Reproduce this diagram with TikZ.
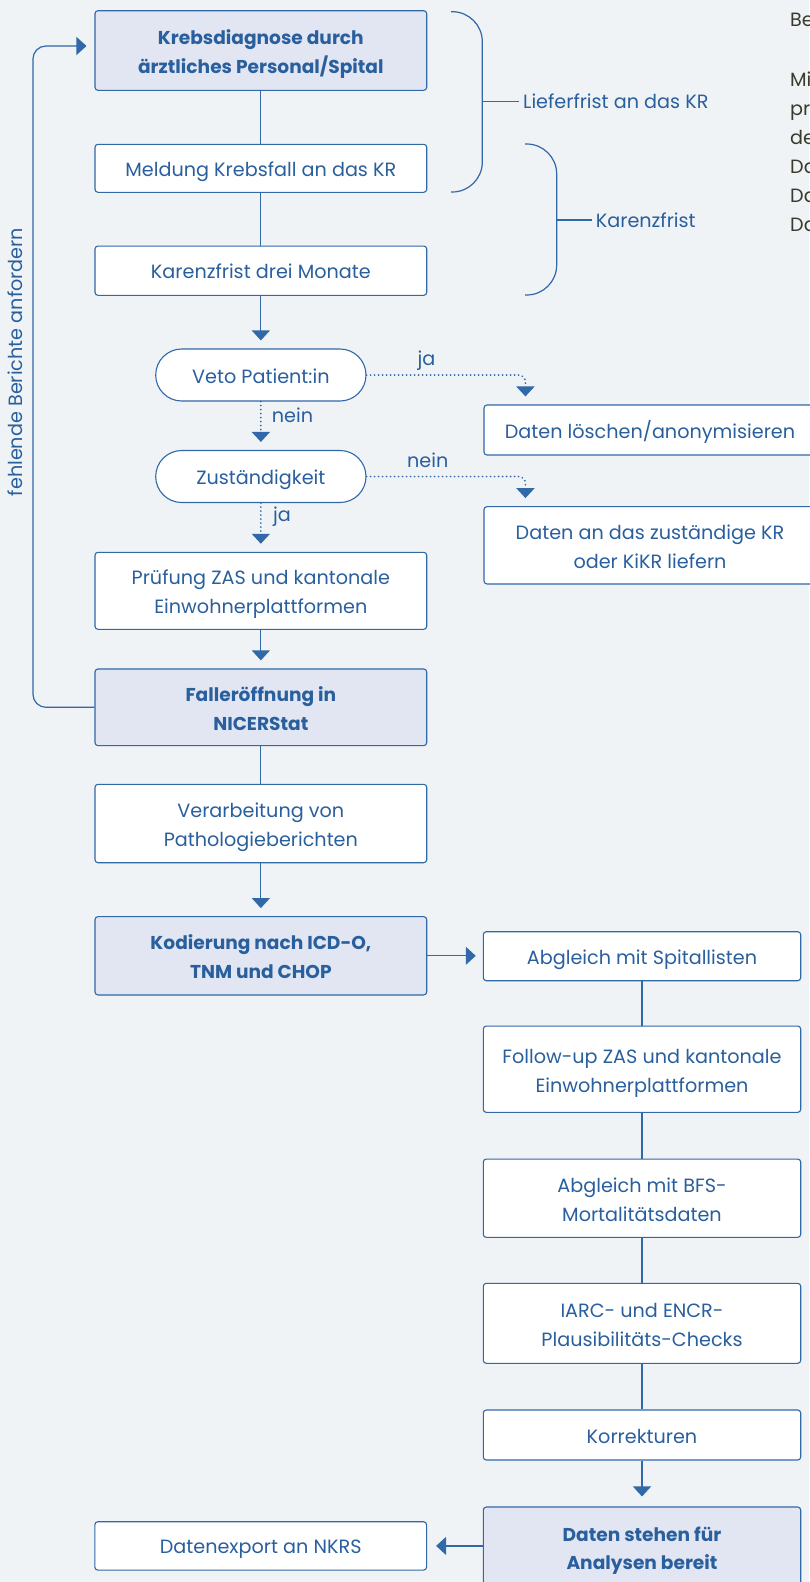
\documentclass[tikz,border=0pt]{standalone}
\usepackage{fontspec}
\setmainfont{Poppins}
\usetikzlibrary{arrows.meta}
\definecolor{bg}{HTML}{EFF3F5}
\definecolor{blu}{HTML}{3068A8}
\definecolor{txt}{HTML}{2A5F9E}
\definecolor{hl}{HTML}{E1E6F2}
\definecolor{dark}{HTML}{3B3A2E}
\newcommand{\bxfont}{\fontsize{19.2}{28.7}\selectfont}
\newcommand{\bdfont}{\fontsize{18.6}{28.7}\selectfont\bfseries}
\newcommand{\tstr}{\rule{0pt}{23pt}}
\newcommand{\bstr}{\rule[-6pt]{0pt}{0pt}}
\begin{document}
\begin{tikzpicture}[x=1pt,y=-1pt,
  box/.style={draw=blu, line width=1.1pt, rounded corners=3pt, fill=white, text=txt, align=center, font=\bxfont, inner sep=0pt,
    execute at begin node={\rule{0pt}{22pt}}, execute at end node={\rule[-6pt]{0pt}{0pt}}},
  wide/.style={minimum width=331.7pt},
  rwide/.style={minimum width=317.4pt},
  hlbox/.style={box, fill=hl, font=\bdfont},
  pill/.style={box, rounded corners=26pt, minimum width=210.3pt, minimum height=52pt},
  conn/.style={draw=blu, line width=1.2pt},
  arr/.style={-{Triangle[width=18pt,length=10pt]}, shorten >=8pt},
  dotl/.style={line width=1.9pt, line cap=round, dash pattern=on 0pt off 4pt},
  lbl/.style={text=txt, font=\bxfont, inner sep=0pt},
  side/.style={text=dark, font=\bxfont, inner sep=0pt, anchor=base west}
]
\useasboundingbox (0,0) rectangle (809,1582);
\fill[bg] (0,0) rectangle (809,1582);

% left column
\node[hlbox, wide, minimum height=79.6pt] (b1) at (260.85,50.5) {\tstr Krebsdiagnose durch\\ärztliches Personal/Spital\bstr};
\node[box, wide, minimum height=48pt] (b2) at (260.85,168.3) {Meldung Krebsfall an das KR};
\node[box, wide, minimum height=49.3pt] (b3) at (260.85,270.7) {Karenzfrist drei Monate};
\node[pill] (veto) at (260.85,375) {Veto Patient:in};
\node[pill] (zust) at (260.85,476.5) {Zuständigkeit};
\node[box, minimum width=332pt, minimum height=50pt] (loesch) at (650,430) {Daten löschen/anonymisieren};
\node[box, minimum width=332pt, minimum height=77.3pt] (liefern) at (650,545.3) {\tstr Daten an das zuständige KR\\oder KiKR liefern\bstr};
\node[box, wide, minimum height=77pt] (pruef) at (260.85,590.8) {\tstr Prüfung ZAS und kantonale\\Einwohnerplattformen\bstr};
\node[hlbox, wide, minimum height=76.7pt] (fall) at (260.85,707.3) {\tstr Falleröffnung in\\NICERStat\bstr};
\node[box, wide, minimum height=78.4pt] (verarb) at (260.85,823.5) {\tstr Verarbeitung von\\Pathologieberichten\bstr};
\node[hlbox, wide, minimum height=78.3pt] (kod) at (260.85,955.8) {\tstr Kodierung nach ICD-O,\\TNM und CHOP\bstr};
\node[box, wide, minimum height=48.3pt] (export) at (260.7,1545.9) {Datenexport an NKRS};

% right column
\node[box, rwide, minimum height=49pt] (abgl) at (642,956.2) {Abgleich mit Spitallisten};
\node[box, rwide, minimum height=86.3pt] (follow) at (642,1069.2) {\tstr Follow-up ZAS und kantonale\\Einwohnerplattformen\bstr};
\node[box, rwide, minimum height=78.3pt] (bfs) at (642,1198.2) {\tstr Abgleich mit BFS-\\Mortalitätsdaten\bstr};
\node[box, rwide, minimum height=80pt] (iarc) at (642,1323.3) {\tstr IARC- und ENCR-\\Plausibilitäts-Checks\bstr};
\node[box, rwide, minimum height=50pt] (korr) at (642,1435) {Korrekturen};
\node[hlbox, rwide, minimum height=80pt] (bereit) at (642,1547) {\tstr Daten stehen für\\Analysen bereit\bstr};

% connectors
\draw[conn] (b1) -- (b2);
\draw[conn] (b2) -- (b3);
\draw[conn, arr] (b3) -- (veto);
\draw[conn, dotl, arr] (veto) -- (zust);
\draw[conn, dotl, arr] (zust) -- (pruef);
\coordinate (tl) at ([xshift=42pt]loesch.north west);
\coordinate (tk) at ([xshift=42pt]liefern.north west);
\draw[conn, dotl, arr, rounded corners=7pt] (veto.east) -- (veto.east -| tl) -- (tl);
\draw[conn, dotl, arr, rounded corners=7pt] (zust.east) -- (zust.east -| tk) -- (tk);
\draw[conn, arr] (pruef) -- (fall);
\draw[conn] (fall) -- (verarb);
\draw[conn, arr] (verarb) -- (kod);
\draw[conn, arr, shorten >=7pt] (kod.east) -- (kod.east -| abgl.west);
\draw[conn] (abgl) -- (follow);
\draw[conn] (follow) -- (bfs);
\draw[conn] (bfs) -- (iarc);
\draw[conn] (iarc) -- (korr);
\draw[conn, arr, shorten >=10pt] (korr) -- (bereit.north);
\draw[conn, arr, shorten >=9pt] (export.east -| bereit.west) -- (export.east);
\draw[conn, arr, rounded corners=13pt] (fall.west) -- ++(-61.5,0) |- ([yshift=4.5pt]b1.west);

% labels on connectors
\node[lbl] at (426.5,361) {ja};
\node[lbl] at (292.5,415) {nein};
\node[lbl] at (427.7,460.5) {nein};
\node[lbl] at (282,517) {ja};
\node[lbl, rotate=90] at (15,362) {fehlende Berichte anfordern};

% brackets
\draw[conn, rounded corners=30pt] (451,11.7) -- (482.3,11.7) -- (482.3,192) -- (451,192);
\node[lbl, anchor=west, inner sep=4pt] (lief) at (519,101.7) {Lieferfrist an das KR};
\draw[conn] (482.3,101.7) -- (lief.west);
\draw[conn, rounded corners=30pt] (525,144) -- (556.7,144) -- (556.7,295) -- (525,295);
\node[lbl, anchor=west, inner sep=4pt] (kfrist) at (591.7,220) {Karenzfrist};
\draw[conn] (556.7,220) -- (kfrist.west);

% side text, cut off at the right edge as in the reference
\node[side] at (790,26.7) {Be};
\node[side] at (790,86) {Mi};
\node[side] at (790,115) {pr};
\node[side] at (790,144) {de};
\node[side] at (790,173) {Da};
\node[side] at (790,202) {Da};
\node[side] at (790,231) {Da};
\end{tikzpicture}
\end{document}
